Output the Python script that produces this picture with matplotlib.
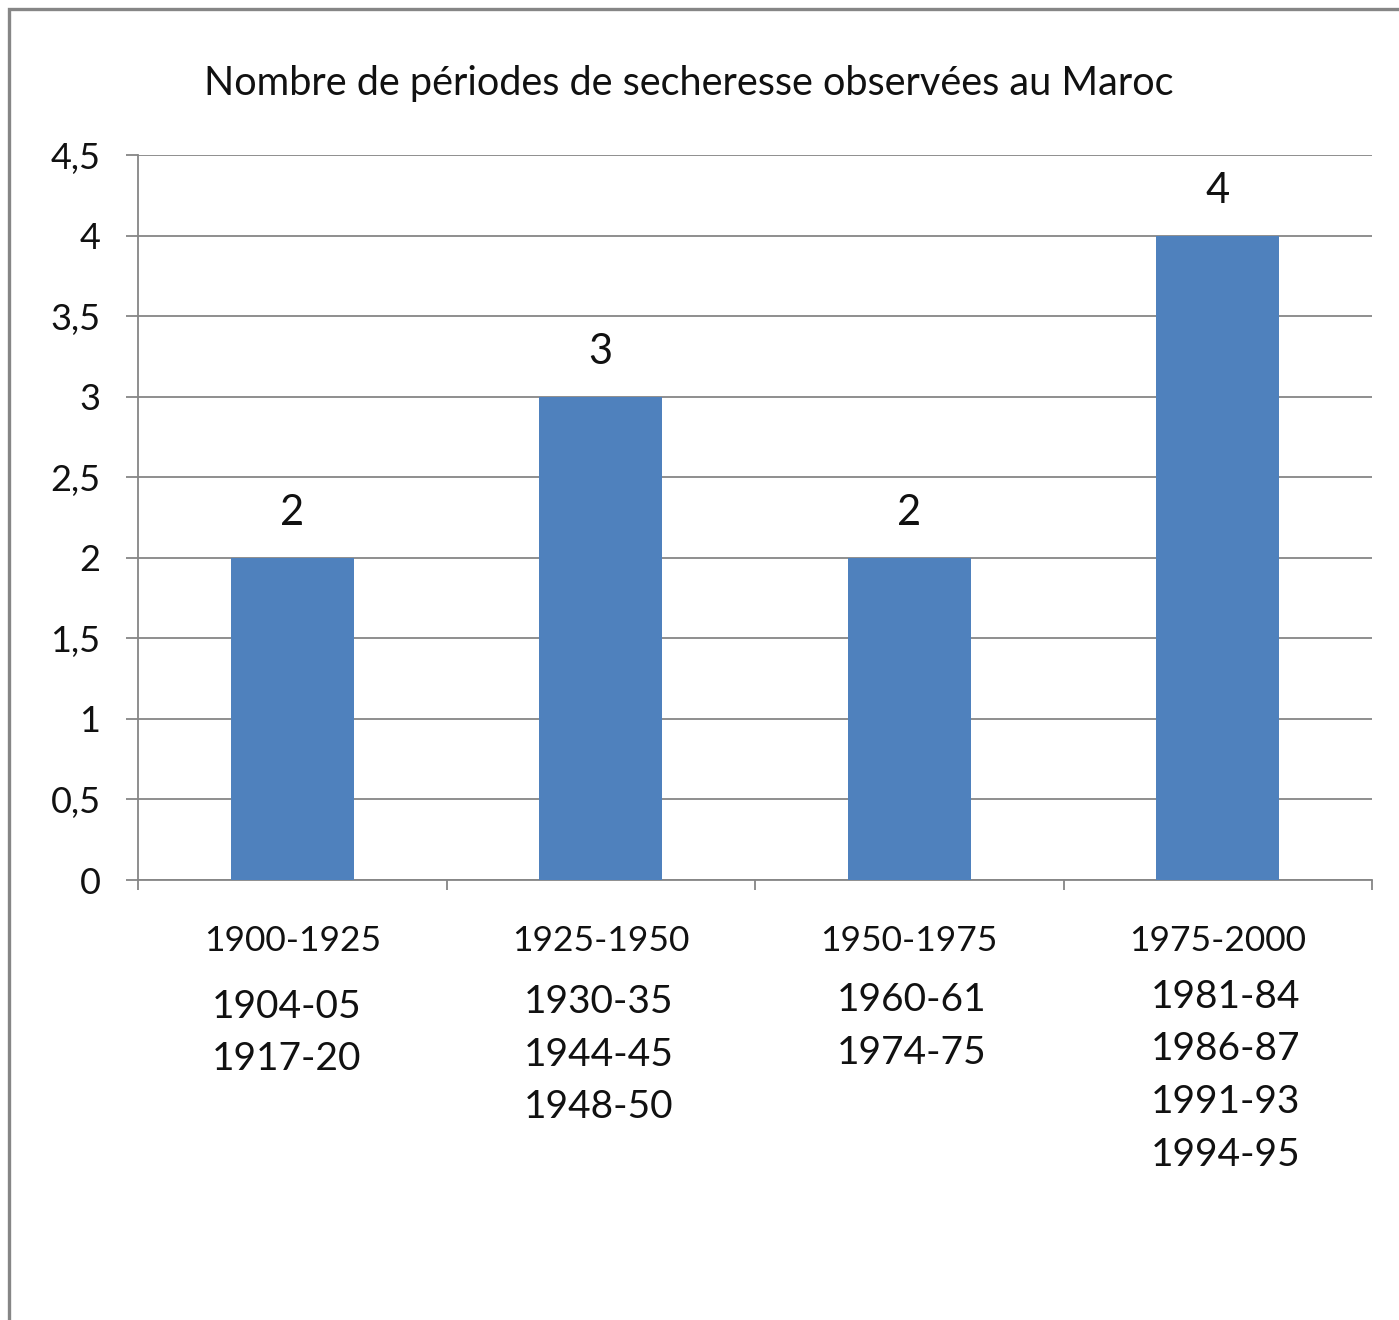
import matplotlib
matplotlib.use("Agg")
import matplotlib.pyplot as plt
from matplotlib.patches import Rectangle

# donnees
categories = ["1900-1925", "1925-1950", "1950-1975", "1975-2000"]
valeurs = [2, 3, 2, 4]
annees = [["1904-05", "1917-20"],
          ["1930-35", "1944-45", "1948-50"],
          ["1960-61", "1974-75"],
          ["1981-84", "1986-87", "1991-93", "1994-95"]]
yticks = [0, 0.5, 1, 1.5, 2, 2.5, 3, 3.5, 4, 4.5]
ytick_labels = ["0", "0,5", "1", "1,5", "2", "2,5", "3", "3,5", "4", "4,5"]
titre = "Nombre de périodes de secheresse observées au Maroc"

GRIS = "#868686"
BLEU = "#4F81BD"
W, H = 1399, 1320

plt.rcParams["font.family"] = ["Lato", "DejaVu Sans"]

fig = plt.figure(figsize=(W / 100, H / 100), dpi=100)
fig.patch.set_facecolor("white")

# cadre gris (gauche + haut)
fig.add_artist(Rectangle((9 / W, -0.1), 2.0, 1.1 - 9 / H, transform=fig.transFigure,
                         fill=False, edgecolor=GRIS, linewidth=2.4))

ax = fig.add_axes([138 / W, 440 / H, 1234 / W, 725 / H])
x = list(range(len(categories)))
ax.bar(x, valeurs, width=0.4, color=BLEU, zorder=3)

ax.set_xlim(-0.5, 3.5)
ax.set_ylim(0, 4.5)
ax.set_yticks(yticks)
ax.set_yticklabels(ytick_labels)
ax.yaxis.grid(True, color=GRIS, linewidth=1.3, zorder=0)
ax.tick_params(axis="y", length=9, width=1.3, color=GRIS, pad=18, labelsize=26,
               labelcolor="#111111")

ax.set_xticks([])
ax.set_xticks([-0.5, 0.5, 1.5, 2.5, 3.5], minor=True)
ax.tick_params(axis="x", which="minor", length=7, width=1.3, color=GRIS)

for s in ["top", "right"]:
    ax.spines[s].set_visible(False)
ax.spines["left"].set_color(GRIS)
ax.spines["bottom"].set_color(GRIS)
ax.spines["left"].set_linewidth(1.3)
ax.spines["bottom"].set_linewidth(1.3)

# etiquettes de valeurs
for xi, v in zip(x, valeurs):
    ax.annotate(str(v), (xi, v), xytext=(0, 45), textcoords="offset pixels",
                ha="center", va="center", fontsize=30, color="#111111")

# etiquettes de categories et annees
dx = [-6, -2, 2, 8]
dy = [-127, -122, -120, -117]
for xi, cat, ans in zip(x, categories, annees):
    ax.annotate(cat, (xi, 0), xytext=(0, -61), textcoords="offset pixels",
                ha="center", va="center", fontsize=25.5, color="#111111")
    for k, a in enumerate(ans):
        ax.annotate(a, (xi, 0), xytext=(dx[xi], dy[xi] - 52.5 * k),
                    textcoords="offset pixels", ha="center", va="center",
                    fontsize=28, color="#111111")

fig.text(689 / W, 1 - 83 / H, titre, ha="center", va="center", fontsize=28.5,
         color="#111111")

fig.savefig("out.png", dpi=100)
